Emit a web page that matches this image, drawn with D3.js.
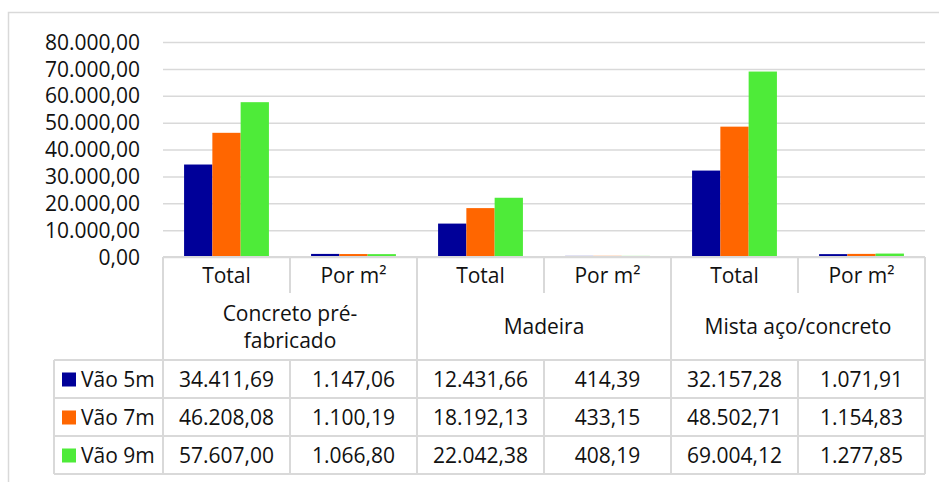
<!DOCTYPE html>
<html>
<head>
<meta charset="utf-8">
<script src="https://cdn.jsdelivr.net/npm/d3@7"></script>
<style>
  html, body { margin: 0; padding: 0; background: #fff; }
  svg { display: block; font-family: "Open Sans", sans-serif; }
  text { fill: #111; }
</style>
</head>
<body>
<svg id="chart" width="939" height="482"></svg>
<script>
// Categories (bottom row of the axis) and their groups
const categories = ["Total", "Por m²", "Total", "Por m²", "Total", "Por m²"];
const groups = ["Concreto pré-\nfabricado", "Madeira", "Mista aço/concreto"];
const seriesNames = ["Vão 5m", "Vão 7m", "Vão 9m"];

// Series values, one per category
const vao5m = [34411.69, 1147.06, 12431.66, 414.39, 32157.28, 1071.91];
const vao7m = [46208.08, 1100.19, 18192.13, 433.15, 48502.71, 1154.83];
const vao9m = [57607.00, 1066.80, 22042.38, 408.19, 69004.12, 1277.85];

// Value axis ticks
const yTicks = [0, 10000, 20000, 30000, 40000, 50000, 60000, 70000, 80000];

const seriesColors = ["#000099", "#FF6600", "#4EEB39"];
const series = [vao5m, vao7m, vao9m];

const ptBR = d3.formatLocale({ decimal: ",", thousands: ".", grouping: [3], currency: ["R$", ""] });
const fmt = ptBR.format(",.2f");

const svg = d3.select("#chart");
const gridColor = "#d9d9d9";
const FS = 21;

// Plot frame
const plotLeft = 163, plotRight = 925, plotTop = 42, plotBottom = 257;
const tableLeft = 54;
const headerBottom = 293, groupBottom = 360, rowH = 38;

// Outer chart border
svg.append("path")
  .attr("d", `M8.5,482 V12.5 H939`)
  .attr("fill", "none").attr("stroke", gridColor).attr("stroke-width", 1.5);

const x = d3.scaleBand().domain(d3.range(categories.length)).range([plotLeft, plotRight]).paddingInner(0).paddingOuter(0);
const xs = d3.scaleBand().domain(d3.range(series.length)).range([0, x.bandwidth()]).paddingInner(0).paddingOuter(0.745);
const y = d3.scaleLinear().domain([0, 80000]).range([plotBottom, plotTop]);

// Gridlines
const grid = svg.append("g").attr("transform", `translate(${plotLeft},0)`)
  .call(d3.axisLeft(y).tickValues(yTicks).tickSize(-(plotRight - plotLeft)).tickFormat(""));
grid.select(".domain").remove();
grid.selectAll(".tick line").attr("stroke", gridColor).attr("stroke-width", 1.5);

// Y axis labels
const yAxis = svg.append("g").attr("transform", `translate(140,0)`)
  .call(d3.axisLeft(y).tickValues(yTicks).tickSize(0).tickPadding(0).tickFormat(fmt));
yAxis.select(".domain").remove();
yAxis.selectAll(".tick text").attr("font-size", FS).attr("font-family", "Open Sans").attr("fill", "#111").attr("dy", "0.34em");

// Bars
series.forEach((vals, si) => {
  svg.append("g").selectAll("rect").data(vals).join("rect")
    .attr("x", (d, i) => x(i) + xs(si))
    .attr("width", xs.bandwidth())
    .attr("y", d => y(d))
    .attr("height", d => y(0) - y(d))
    .attr("fill", seriesColors[si]);
});

// Data table
const t = svg.append("g");
const line = (x1, y1, x2, y2) => t.append("line")
  .attr("x1", x1).attr("y1", y1).attr("x2", x2).attr("y2", y2)
  .attr("stroke", gridColor).attr("stroke-width", 2);

const bounds = d3.range(categories.length).map(i => x(i)).concat([plotRight]);
const tableBottom = groupBottom + rowH * series.length;

// horizontal rules
line(plotLeft, plotBottom, plotRight, plotBottom);
for (let r = 0; r <= series.length; r++) line(tableLeft, groupBottom + r * rowH, plotRight, groupBottom + r * rowH);
// vertical rules
bounds.forEach((bx, i) => {
  const groupEdge = i % 2 === 0;
  if (groupEdge) line(bx, plotBottom, bx, tableBottom);
  else { line(bx, plotBottom, bx, headerBottom); line(bx, groupBottom, bx, tableBottom); }
});
line(tableLeft, groupBottom, tableLeft, tableBottom);

// category labels
t.selectAll("text.cat").data(categories).join("text").attr("class", "cat")
  .attr("x", (d, i) => x(i) + x.bandwidth() / 2).attr("y", 283)
  .attr("text-anchor", "middle").attr("font-size", FS).text(d => d);

// group labels
groups.forEach((g, gi) => {
  const cx = x(gi * 2) + x.bandwidth();
  const lines = g.split("\n");
  const mid = (headerBottom + groupBottom) / 2;
  const lh = 27;
  lines.forEach((ln, li) => {
    t.append("text").attr("x", cx).attr("y", mid + (li - (lines.length - 1) / 2) * lh)
      .attr("dy", "0.36em").attr("text-anchor", "middle").attr("font-size", FS).text(ln);
  });
});

// series rows
series.forEach((vals, si) => {
  const top = groupBottom + si * rowH;
  t.append("rect").attr("x", 62).attr("y", top + 12.5).attr("width", 14).attr("height", 14).attr("fill", seriesColors[si]);
  t.append("text").attr("x", 81).attr("y", top + rowH / 2).attr("dy", "0.36em")
    .attr("font-size", FS).text(seriesNames[si]);
  t.selectAll(null).data(vals).join("text")
    .attr("x", (d, i) => x(i) + x.bandwidth() / 2).attr("y", top + rowH / 2).attr("dy", "0.36em")
    .attr("text-anchor", "middle").attr("font-size", FS).text(d => fmt(d));
});
</script>
</body>
</html>
